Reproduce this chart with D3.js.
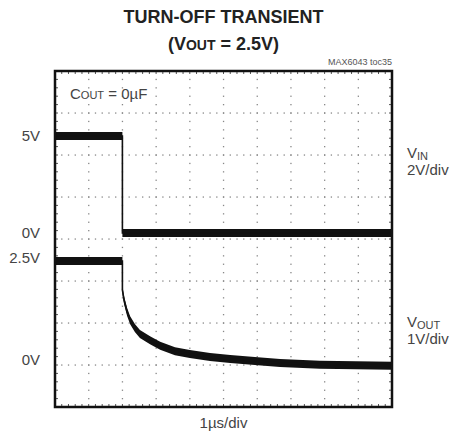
<!DOCTYPE html>
<html lang="en">
<head>
	<meta charset="UTF-8">
	<title>Turn-off transient</title>
	<style>
		body { margin: 0; background: #fff; }
		.f-svg { background-color: #fff; display: block; }
		text { font-family: "Liberation Sans", Arial, sans-serif; }
		.title { font-weight: bold; font-size: 18px; fill: #222; }
		.lbl { font-size: 15px; fill: #444; }
		.note { font-size: 9px; fill: #555; }
		.Axis path, .Axis line { display: none; }
		.Axis text { font-family: "Liberation Sans", Arial, sans-serif; font-size: 15px; fill: #444; }
	</style>
	<script src="https://cdn.jsdelivr.net/npm/d3@7/dist/d3.min.js"></script>
</head>
<body>
	<script type="text/javascript">
		// time in us, volts
		var vinTime  = [0, 2.0, 2.0, 10];
		var vinVolts = [5, 5, 0, 0];

		var voutTime  = [0, 2.0, 2.0, 2.05, 2.14, 2.23, 2.37, 2.52, 2.82, 3.12, 3.56, 4.0, 4.6, 5.2, 5.93, 6.68, 7.86, 10];
		var voutVolts = [2.5, 2.5, 1.79, 1.54, 1.25, 1.05, 0.86, 0.71, 0.56, 0.42, 0.29, 0.22, 0.15, 0.10, 0.05, 0.0, -0.04, -0.07];

		var vinTicks  = [0, 5];
		var voutTicks = [0, 2.5];

		const w = 465, h = 444;
		const pLeft = 55, pRight = 392, pTop = 71, pBottom = 407;
		const xDivs = 10, yDivs = 8;

		const svg = d3.select("body")
			.append("svg")
			.attr("width", w)
			.attr("height", h)
			.attr("class", "f-svg");

		var xScale = d3.scaleLinear().domain([0, xDivs]).range([pLeft, pRight]);
		var yDiv = d3.scaleLinear().domain([0, yDivs]).range([pBottom, pTop]);
		// each trace has its own offset on screen
		var yIn = d3.scaleLinear().domain([0, 5]).range([233, 136]);
		var yOut = d3.scaleLinear().domain([0, 2.5]).range([363, 261]);

		// graticule dots
		var g = svg.append("g");
		var minorX = d3.range(0, xDivs * 5 + 1).map(d => d / 5);
		var minorY = d3.range(0, yDivs * 5 + 1).map(d => d / 5);
		for (let i = 1; i < xDivs; i++) {
			g.selectAll(null).data(minorY).enter().append("rect")
				.attr("x", xScale(i) - 0.6).attr("y", d => yDiv(d) - 0.6)
				.attr("width", 1.3).attr("height", 1.3).attr("fill", "#888");
		}
		for (let j = 1; j < yDivs; j++) {
			g.selectAll(null).data(minorX).enter().append("rect")
				.attr("x", d => xScale(d) - 0.6).attr("y", yDiv(j) - 0.6)
				.attr("width", 1.3).attr("height", 1.3).attr("fill", "#888");
		}
		// edge ticks
		g.selectAll(null).data(minorX).enter().append("line")
			.attr("x1", d => xScale(d)).attr("x2", d => xScale(d))
			.attr("y1", pTop).attr("y2", pTop + 3).attr("stroke", "#555");
		g.selectAll(null).data(minorX).enter().append("line")
			.attr("x1", d => xScale(d)).attr("x2", d => xScale(d))
			.attr("y1", pBottom).attr("y2", pBottom - 3).attr("stroke", "#555");
		g.selectAll(null).data(minorY).enter().append("line")
			.attr("x1", pLeft).attr("x2", pLeft + 3)
			.attr("y1", d => yDiv(d)).attr("y2", d => yDiv(d)).attr("stroke", "#555");
		g.selectAll(null).data(minorY).enter().append("line")
			.attr("x1", pRight).attr("x2", pRight - 3)
			.attr("y1", d => yDiv(d)).attr("y2", d => yDiv(d)).attr("stroke", "#555");

		// traces: noisy band drawn as area + thin edge line
		function trace(times, volts, ys, half) {
			var pts = times.map((t, i) => [t, volts[i]]);
			var area = d3.area()
				.x(d => xScale(d[0]))
				.y0(d => ys(d[1]) - half)
				.y1(d => ys(d[1]) + half);
			svg.append("path").datum(pts).attr("d", area).attr("fill", "#111");
			var line = d3.line().x(d => xScale(d[0])).y(d => ys(d[1]));
			svg.append("path").datum(pts).attr("d", line)
				.attr("fill", "none").attr("stroke", "#111").attr("stroke-width", 1.6);
		}
		trace(vinTime, vinVolts, yIn, 4);
		trace(voutTime, voutVolts, yOut, 4);

		// frame
		svg.append("rect")
			.attr("x", pLeft).attr("y", pTop)
			.attr("width", pRight - pLeft).attr("height", pBottom - pTop)
			.attr("fill", "none").attr("stroke", "#111").attr("stroke-width", 2.5);

		// left labels
		svg.append("g").attr("class", "Axis")
			.attr("transform", "translate(" + pLeft + ",0)")
			.call(d3.axisLeft(yIn).tickValues(vinTicks).tickSize(0).tickPadding(15).tickFormat(d => d + "V"));
		svg.append("g").attr("class", "Axis")
			.attr("transform", "translate(" + pLeft + ",-3)")
			.call(d3.axisLeft(yOut).tickValues(voutTicks).tickSize(0).tickPadding(15).tickFormat(d => d + "V"));

		// titles
		svg.append("text").attr("class", "title").attr("x", (pLeft + pRight) / 2).attr("y", 23)
			.attr("text-anchor", "middle").text("TURN-OFF TRANSIENT");
		var t2 = svg.append("text").attr("class", "title").attr("x", (pLeft + pRight) / 2).attr("y", 50)
			.attr("text-anchor", "middle");
		t2.append("tspan").text("(V");
		t2.append("tspan").attr("font-size", "14px").text("OUT");
		t2.append("tspan").text(" = 2.5V)");

		svg.append("text").attr("class", "note").attr("x", pRight).attr("y", 65)
			.attr("text-anchor", "end").text("MAX6043 toc35");

		var c = svg.append("text").attr("class", "lbl").attr("x", 70).attr("y", 99);
		c.append("tspan").text("C");
		c.append("tspan").attr("font-size", "11px").text("OUT");
		c.append("tspan").text(" = 0\u00b5F");

		function sideLabel(y, name, sub, scale) {
			var t = svg.append("text").attr("class", "lbl").attr("x", 407).attr("y", y);
			t.append("tspan").text(name);
			t.append("tspan").attr("font-size", "11px").attr("dy", 2).text(sub);
			svg.append("text").attr("class", "lbl").attr("x", 407).attr("y", y + 17).text(scale);
		}
		sideLabel(158, "V", "IN", "2V/div");
		sideLabel(327, "V", "OUT", "1V/div");

		svg.append("text").attr("class", "lbl").attr("x", (pLeft + pRight) / 2).attr("y", 428)
			.attr("text-anchor", "middle").text("1\u00b5s/div");
	</script>
</body>
</html>
